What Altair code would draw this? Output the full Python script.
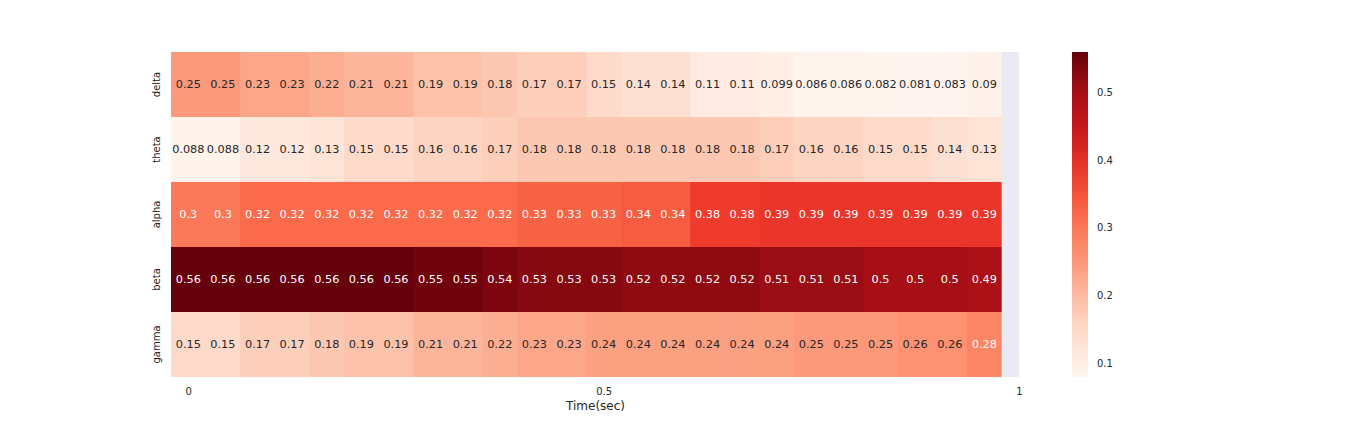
import altair as alt
import pandas as pd
import numpy as np

bands = ["delta", "theta", "alpha", "beta", "gamma"]
delta = [0.25, 0.25, 0.23, 0.23, 0.22, 0.21, 0.21, 0.19, 0.19, 0.18, 0.17, 0.17,
         0.15, 0.14, 0.14, 0.11, 0.11, 0.099, 0.086, 0.086, 0.082, 0.081, 0.083, 0.09]
theta = [0.088, 0.088, 0.12, 0.12, 0.13, 0.15, 0.15, 0.16, 0.16, 0.17, 0.18, 0.18,
         0.18, 0.18, 0.18, 0.18, 0.18, 0.17, 0.16, 0.16, 0.15, 0.15, 0.14, 0.13]
alpha = [0.3, 0.3, 0.32, 0.32, 0.32, 0.32, 0.32, 0.32, 0.32, 0.32, 0.33, 0.33,
         0.33, 0.34, 0.34, 0.38, 0.38, 0.39, 0.39, 0.39, 0.39, 0.39, 0.39, 0.39]
beta = [0.56, 0.56, 0.56, 0.56, 0.56, 0.56, 0.56, 0.55, 0.55, 0.54, 0.53, 0.53,
        0.53, 0.52, 0.52, 0.52, 0.52, 0.51, 0.51, 0.51, 0.5, 0.5, 0.5, 0.49]
gamma = [0.15, 0.15, 0.17, 0.17, 0.18, 0.19, 0.19, 0.21, 0.21, 0.22, 0.23, 0.23,
         0.24, 0.24, 0.24, 0.24, 0.24, 0.24, 0.25, 0.25, 0.25, 0.26, 0.26, 0.28]
series = {"delta": delta, "theta": theta, "alpha": alpha, "beta": beta, "gamma": gamma}

x_tick_pos = [0.5, 12.5, 24.5]
x_tick_labels = ["0", "0.5", "1"]
cbar_ticks = [0.1, 0.2, 0.3, 0.4, 0.5]

reds = ["#fff5f0", "#fee0d2", "#fcbba1", "#fc9272", "#fb6a4a",
        "#ef3b2c", "#cb181d", "#a50f15", "#67000d"]

n_cols = len(delta)
rows = []
for b in bands:
    for i, v in enumerate(series[b]):
        # small overlap into the next cell hides anti-aliasing seams
        overlap = 0.04 if i < n_cols - 1 else 0.0
        rows.append({"band": b, "c0": i, "c1": i + 1 + overlap, "cm": i + 0.5,
                     "value": v, "label": f"{v:g}"})
df = pd.DataFrame(rows)

all_vals = [v for b in bands for v in series[b]]
vmin, vmax = min(all_vals), max(all_vals)
stops = list(np.linspace(vmin, vmax, len(reds)))

label_map = "{" + ",".join(f"'{p}':'{l}'" for p, l in zip(x_tick_pos, x_tick_labels)) + "}"

xscale = alt.Scale(domain=[0, 24.5], nice=False, zero=False)
yscale = alt.Scale(domain=bands, paddingInner=0, paddingOuter=0)

base = alt.Chart(df)

heat = base.mark_rect(strokeWidth=0).encode(
    x=alt.X("c0:Q", scale=xscale,
            axis=alt.Axis(values=x_tick_pos, title="Time(sec)",
                          labelExpr=f"{label_map}[datum.value + '']",
                          ticks=False, domain=False, grid=False,
                          labelFlush=False, labelOverlap=False,
                          labelFontSize=10, labelPadding=9,
                          titleFontSize=12, titleFontWeight="normal",
                          titlePadding=4, labelColor="#262626",
                          titleColor="#262626", labelFont="DejaVu Sans",
                          titleFont="DejaVu Sans")),
    x2="c1:Q",
    y=alt.Y("band:N", scale=yscale,
            axis=alt.Axis(title=None, ticks=False, domain=False, grid=False,
                          labelAngle=270, labelFontSize=10, labelPadding=10,
                          labelColor="#262626", labelFont="DejaVu Sans")),
    color=alt.Color("value:Q",
                    scale=alt.Scale(domain=stops, range=reds, interpolate="rgb"),
                    legend=alt.Legend(type="gradient", title=None, orient="none",
                                      legendX=901, legendY=0,
                                      direction="vertical", gradientLength=325,
                                      gradientThickness=16, values=cbar_ticks,
                                      labelFontSize=10, labelColor="#262626",
                                      labelFont="DejaVu Sans", labelOffset=9,
                                      gradientStrokeWidth=0)),
)

text = base.mark_text(fontSize=11.3, font="DejaVu Sans").encode(
    x=alt.X("cm:Q", scale=xscale),
    y=alt.Y("band:N", scale=yscale),
    text="label:N",
    color=alt.condition(alt.datum.value > 0.27, alt.value("white"), alt.value("#262626")),
)

chart = alt.layer(heat, text).properties(
    width=848, height=325,
    autosize=alt.AutoSizeParams(type="none"),
    padding={"left": 163, "top": 44, "right": 341, "bottom": 47},
    background="white",
).configure_view(fill="#EAEAF2", strokeWidth=0)

chart.save("out.html", embed_options={"renderer": "svg", "actions": False})
